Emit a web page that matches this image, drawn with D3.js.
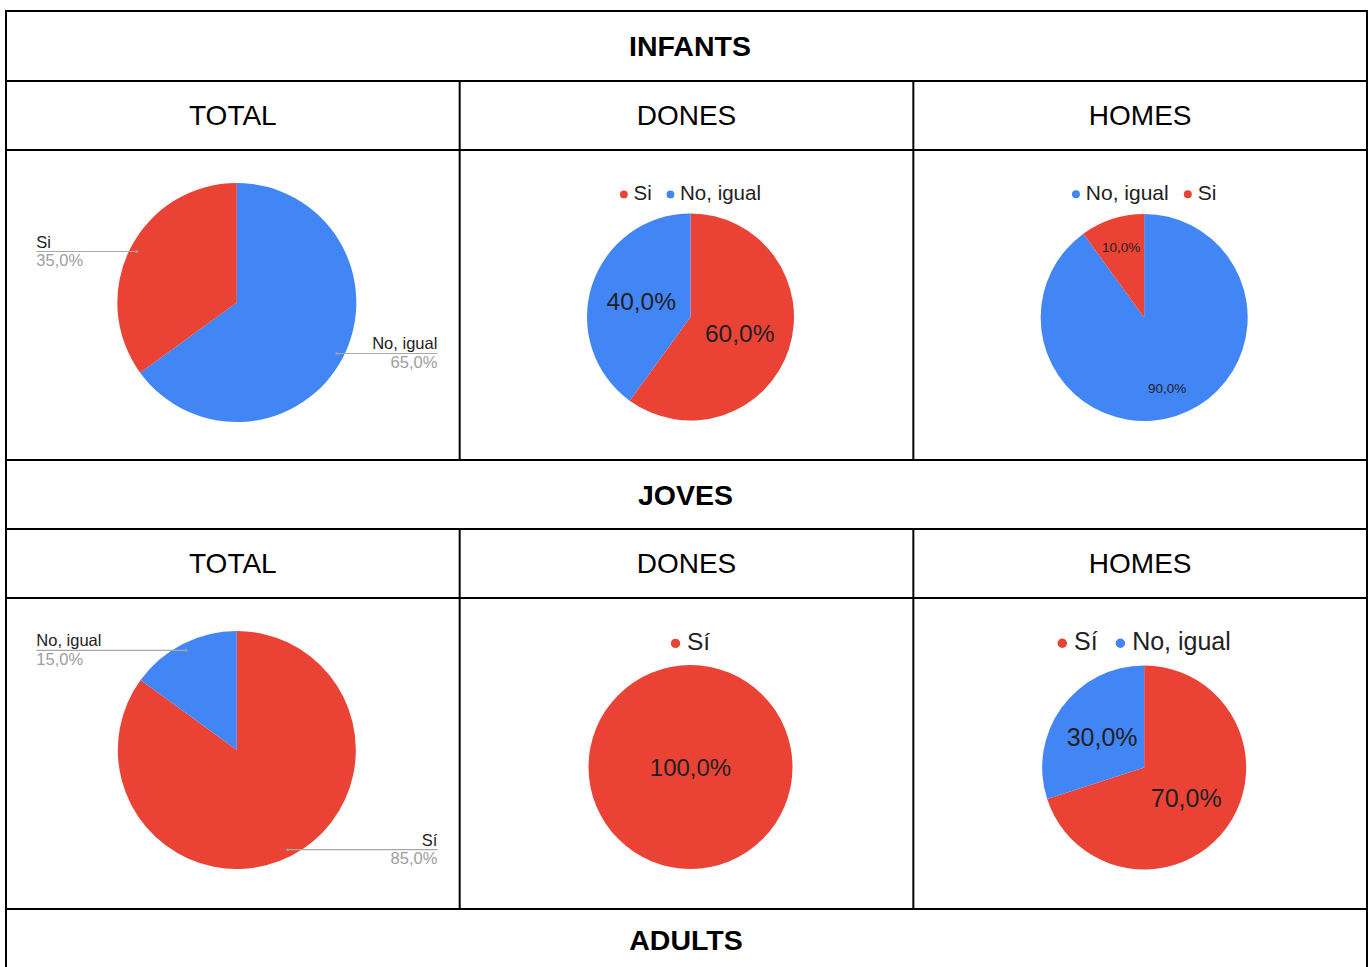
<!DOCTYPE html>
<html>
<head>
<meta charset="utf-8">
<script src="https://cdn.jsdelivr.net/npm/d3@7/dist/d3.min.js"></script>
<style>
  html, body { margin: 0; padding: 0; background: #fff; }
  svg { display: block; }
  text { font-family: "Liberation Sans", Arial, Helvetica, sans-serif; }
</style>
</head>
<body>
<svg id="chart" width="1372" height="967"></svg>
<script>
// ---------- DATA ----------
const groupTitles = ["INFANTS", "JOVES", "ADULTS"];
const columnTitles = ["TOTAL", "DONES", "HOMES"];

// slices listed in drawing order (clockwise from 12 o'clock)
const infantsTotalLabels = ["No, igual", "Si"];
const infantsTotalValues = [65, 35];
const infantsDonesLabels = ["Si", "No, igual"];
const infantsDonesValues = [60, 40];
const infantsHomesLabels = ["No, igual", "Si"];
const infantsHomesValues = [90, 10];

const jovesTotalLabels = ["Sí", "No, igual"];
const jovesTotalValues = [85, 15];
const jovesDonesLabels = ["Sí"];
const jovesDonesValues = [100];
const jovesHomesLabels = ["Sí", "No, igual"];
const jovesHomesValues = [70, 30];

// ---------- STYLE / LAYOUT ----------
const RED = "#EA4335", BLUE = "#4285F4";
const color = d3.scaleOrdinal().domain(["Si", "Sí", "No, igual"]).range([RED, RED, BLUE]);

const svg = d3.select("#chart");
const X0 = 6, X1 = 1367;
const colScale = d3.scaleBand().domain(columnTitles).range([X0, X1]);

// section rows: title row, header row, pie row
const sections = [
  { title: groupTitles[0], top: 11, header: 81, pies: 150, bottom: 460, tx: 690 },
  { title: groupTitles[1], top: 460, header: 529, pies: 598, bottom: 909, tx: 685.5 },
  { title: groupTitles[2], top: 909, header: null, pies: null, bottom: 979, tx: 686 }
];

const charts = [
  { sec: 0, col: "TOTAL", labels: infantsTotalLabels, values: infantsTotalValues, type: "outside", dy: 152.5, r: 119.5, font: 16.5 },
  { sec: 0, col: "DONES", labels: infantsDonesLabels, values: infantsDonesValues, type: "inside", dy: 167, r: 103.5, font: 24.5, lf: 0.50, legendFont: 20.5, legendY: 200 },
  { sec: 0, col: "HOMES", labels: infantsHomesLabels, values: infantsHomesValues, type: "inside", dy: 167.5, r: 103.5, font: 13.5, lf: 0.72, legendFont: 21, legendY: 200 },
  { sec: 1, col: "TOTAL", labels: jovesTotalLabels, values: jovesTotalValues, type: "outside", dy: 152, r: 119, font: 16.5 },
  { sec: 1, col: "DONES", labels: jovesDonesLabels, values: jovesDonesValues, type: "inside", dy: 169, r: 102, font: 24, lf: 0, legendFont: 24.5, legendY: 650 },
  { sec: 1, col: "HOMES", labels: jovesHomesLabels, values: jovesHomesValues, type: "inside", dy: 169.5, r: 102, font: 25, lf: 0.51, legendFont: 25, legendY: 650 }
];

const fmt = v => v.toFixed(1).replace(".", ",") + "%";

// ---------- TABLE TEXT ----------
sections.forEach(s => {
  const titleBottom = s.header !== null ? s.header : s.top + 62;
  svg.append("text")
    .attr("x", s.tx)
    .attr("y", (s.top + titleBottom) / 2)
    .attr("dy", "0.36em")
    .attr("text-anchor", "middle")
    .attr("font-size", 28.5)
    .attr("font-weight", "bold")
    .attr("fill", "#000")
    .text(s.title);
  if (s.header !== null) {
    columnTitles.forEach(c => {
      svg.append("text")
        .attr("x", colScale(c) + colScale.bandwidth() / 2)
        .attr("y", (s.header + s.pies) / 2)
        .attr("dy", "0.35em")
        .attr("text-anchor", "middle")
        .attr("font-size", 28)
        .attr("fill", "#000")
        .text(c);
    });
  }
});

// ---------- PIES ----------
const pie = d3.pie().sort(null).value(d => d.value);

charts.forEach(ch => {
  const sec = sections[ch.sec];
  const cx = colScale(ch.col) + colScale.bandwidth() / 2 + 4;
  const cy = sec.pies + ch.dy;
  const total = d3.sum(ch.values);
  const data = ch.labels.map((l, i) => ({ label: l, value: ch.values[i], pct: ch.values[i] / total * 100 }));
  const arcs = pie(data);
  const arc = d3.arc().innerRadius(0).outerRadius(ch.r);
  const g = svg.append("g").attr("transform", `translate(${cx},${cy})`);

  g.selectAll("path.slice").data(arcs).join("path")
    .attr("class", "slice")
    .attr("d", arc)
    .attr("fill", d => color(d.data.label));

  if (ch.type === "inside") {
    g.selectAll("text.val").data(arcs).join("text")
      .attr("class", "val")
      .attr("transform", d => {
        if (ch.lf === 0) return "translate(0,0)";
        const m = (d.startAngle + d.endAngle) / 2;
        return `translate(${Math.sin(m) * ch.r * ch.lf},${-Math.cos(m) * ch.r * ch.lf})`;
      })
      .attr("dy", "0.36em")
      .attr("text-anchor", "middle")
      .attr("font-size", ch.font)
      .attr("fill", "#1f1f1f")
      .text(d => fmt(d.data.pct));

    // legend
    const lg = svg.append("g");
    const fs = ch.legendFont;
    const dotR = fs * 0.19;
    let xpos = 0;
    data.forEach((d, i) => {
      if (i > 0) xpos += fs * 0.72;
      lg.append("circle")
        .attr("cx", xpos + dotR)
        .attr("cy", ch.legendY - fs * 0.27)
        .attr("r", dotR)
        .attr("fill", color(d.label));
      const t = lg.append("text")
        .attr("x", xpos + dotR + fs * 0.47)
        .attr("y", ch.legendY)
        .attr("font-size", fs)
        .attr("fill", "#222")
        .text(d.label);
      xpos = xpos + dotR + fs * 0.47 + t.node().getComputedTextLength();
    });
    lg.attr("transform", `translate(${cx - xpos / 2},0)`);
  } else {
    const outR = ch.r * 0.94;
    arcs.forEach(d => {
      const m = (d.startAngle + d.endAngle) / 2;
      const px = Math.sin(m) * outR, py = -Math.cos(m) * outR;
      const left = Math.sin(m) < 0;
      const ex = left ? -200.5 : 200.5;
      g.append("line")
        .attr("x1", px).attr("y1", py).attr("x2", ex).attr("y2", py)
        .attr("stroke", "#a8a8a8").attr("stroke-width", 1.2);
      g.append("circle")
        .attr("cx", px).attr("cy", py).attr("r", 1.5)
        .attr("fill", "#9e9e9e");
      g.append("text")
        .attr("x", ex).attr("y", py - 4)
        .attr("text-anchor", left ? "start" : "end")
        .attr("font-size", ch.font)
        .attr("fill", "#222")
        .text(d.data.label);
      g.append("text")
        .attr("x", ex).attr("y", py + 14.5)
        .attr("text-anchor", left ? "start" : "end")
        .attr("font-size", ch.font)
        .attr("fill", "#9e9e9e")
        .text(fmt(d.data.pct));
    });
  }
});

// ---------- TABLE GRID ----------
const grid = svg.append("g").attr("stroke", "#000").attr("stroke-width", 2).attr("fill", "none");
const hLines = [11, 81, 150, 460, 529, 598, 909];
hLines.forEach(y => grid.append("line").attr("x1", X0 - 1).attr("x2", X1 + 1).attr("y1", y).attr("y2", y));
grid.append("line").attr("x1", X0).attr("x2", X0).attr("y1", 10).attr("y2", 967);
grid.append("line").attr("x1", X1).attr("x2", X1).attr("y1", 10).attr("y2", 967);
sections.filter(s => s.header !== null).forEach(s => {
  columnTitles.slice(1).forEach(c => {
    const x = colScale(c);
    grid.append("line").attr("x1", x).attr("x2", x).attr("y1", s.header).attr("y2", s.bottom);
  });
});
</script>
</body>
</html>
